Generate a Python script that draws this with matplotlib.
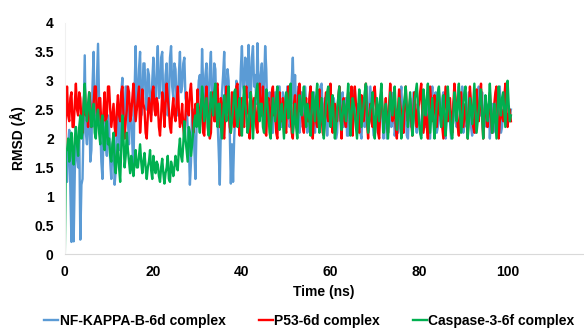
import numpy as np
import matplotlib
matplotlib.use("Agg")
import matplotlib.pyplot as plt

plt.rcParams['font.family'] = ['Liberation Sans', 'DejaVu Sans']
plt.rcParams['font.weight'] = 'bold'

# RMSD traces, one value every 0.25 ns (0 .. 100.75 ns)
time_step = 0.25

nfkb = [
    1.75, 1.5, 1.25, 1.9, 2.15, 1.1, 0.21, 1.8, 0.22, 1.4,
    2.2, 1.7, 1.5, 2.1, 0.25, 1.2, 1.3, 2.4, 3.44, 2.1,
    1.9, 2.3, 2.7, 1.6, 1.8, 2.9, 3.5, 2.2, 2.4, 3.0,
    3.64, 2.6, 2.2, 1.6, 1.3, 2.1, 2.5, 1.9, 1.7, 2.4,
    2.2, 1.6, 1.3, 1.9, 2.0, 1.2, 1.45, 2.3, 2.6, 1.8,
    2.1, 2.8, 3.05, 2.2, 2.4, 2.9, 2.9, 2.3, 1.9, 2.6,
    2.5, 1.9, 1.4, 2.8, 3.6, 2.5, 2.7, 3.2, 3.5, 2.4,
    2.6, 3.3, 3.3, 2.7, 2.5, 3.2, 3.1, 2.6, 2.4, 3.0,
    3.4, 2.8, 2.6, 3.2, 3.6, 2.7, 2.8, 3.4, 3.5, 2.6,
    2.5, 3.1, 3.3, 2.4, 2.6, 3.4, 3.6, 2.9, 2.7, 3.3,
    3.2, 2.6, 2.4, 3.1, 3.5, 2.8, 2.9, 3.3, 3.4, 2.7,
    2.6, 2.2, 1.9, 1.2, 1.6, 2.5, 2.5, 1.8, 1.3, 2.2,
    2.6, 3.0, 3.1, 2.5, 3.55, 2.9, 2.4, 3.1, 3.3, 2.5,
    2.7, 3.2, 3.5, 2.6, 2.5, 3.3, 3.2, 2.4, 2.3, 1.8,
    1.2, 2.2, 2.8, 3.1, 3.5, 2.7, 2.6, 3.2, 3.0, 2.1,
    1.22, 1.9, 1.25, 2.0, 2.4, 3.0, 2.9, 2.3, 2.5, 3.2,
    3.6, 2.9, 2.8, 3.4, 3.3, 2.7, 3.62, 3.0, 2.7, 3.4,
    3.6, 2.9, 3.1, 2.6, 3.65, 3.0, 2.6, 3.1, 3.3, 2.5,
    2.9, 3.6, 3.2, 2.4, 2.3, 2.8, 2.6, 2.1, 2.1, 2.7,
    2.8, 2.2, 2.3, 2.9, 2.9, 2.3, 2.2, 2.8, 2.7, 2.1,
    2.4, 2.9, 2.9, 2.2, 2.3, 3.0, 3.4, 2.6, 3.1, 2.5,
    2.4, 2.9, 2.1, 2.6, 2.8, 2.2, 2.3, 2.9, 2.6, 2.1,
    2.2, 2.7, 2.9, 2.3, 2.4, 2.8, 2.1, 2.5, 2.7, 2.2,
    2.3, 2.9, 2.95, 2.4, 2.2, 2.7, 2.6, 2.05, 2.4, 2.8,
    2.8, 2.2, 2.3, 2.7, 2.5, 2.0, 2.1, 2.6, 2.9, 2.3,
    2.4, 2.8, 2.2, 2.5, 2.7, 2.05, 2.05, 2.7, 2.6, 2.2,
    2.3, 2.8, 2.85, 2.4, 2.2, 2.6, 2.5, 2.1, 2.0, 2.5,
    2.7, 2.2, 2.4, 2.9, 2.1, 2.3, 2.9, 2.6, 2.3, 2.05,
    2.05, 2.5, 2.6, 2.1, 2.2, 2.7, 2.8, 2.3, 2.0, 2.4,
    2.4, 2.0, 2.1, 2.6, 2.7, 2.2, 2.3, 2.8, 2.05, 2.2,
    2.5, 2.1, 2.2, 2.7, 2.9, 2.4, 2.1, 2.6, 2.4, 2.05,
    2.0, 2.5, 2.6, 2.2, 2.3, 2.8, 2.8, 2.3, 2.1, 2.6,
    2.4, 2.1, 2.05, 2.5, 2.7, 2.3, 2.2, 2.6, 2.5, 2.0,
    2.0, 2.6, 2.9, 2.4, 2.3, 2.8, 2.1, 2.2, 2.6, 2.4,
    2.2, 2.7, 2.8, 2.1, 2.0, 2.4, 2.5, 2.3, 2.3, 2.0,
    2.05, 2.6, 2.7, 2.3, 2.2, 2.7, 2.9, 2.5, 2.4, 2.9,
    2.1, 2.5, 2.6, 2.2, 2.3, 2.8, 2.8, 2.2, 2.05, 2.4,
    2.5, 2.1, 2.2, 2.7, 2.9, 2.4, 2.4, 2.8, 2.1, 2.3,
    2.7, 2.2, 2.3, 2.6, 2.0, 2.4, 2.6, 2.1, 2.2, 2.7,
    2.8, 2.3, 2.4, 2.9, 2.1, 2.2, 2.5, 2.3, 2.3, 2.7,
    2.6, 2.5, 2.4, 2.5]

p53 = [
    1.7, 2.5, 2.9, 2.4, 2.3, 2.7, 2.8, 2.2, 2.2, 2.6,
    2.95, 2.5, 2.4, 2.8, 2.7, 2.3, 2.1, 2.6, 2.9, 2.4,
    2.5, 2.2, 2.8, 2.6, 2.2, 2.4, 2.6, 2.9, 2.9, 2.4,
    2.3, 2.7, 2.7, 2.2, 2.1, 2.5, 2.8, 2.3, 2.4, 2.9,
    2.9, 2.5, 2.2, 2.4, 2.6, 2.2, 2.05, 2.5, 2.75, 2.4,
    2.3, 2.8, 2.9, 2.4, 2.0, 2.3, 2.5, 2.9, 2.8, 2.3,
    2.4, 2.7, 2.95, 2.6, 2.3, 2.5, 2.7, 2.9, 2.1, 2.4,
    2.85, 2.6, 2.5, 2.1, 2.0, 2.4, 2.7, 2.5, 2.3, 2.8,
    2.9, 2.5, 2.4, 2.7, 2.6, 2.2, 2.05, 2.4, 2.8, 2.6,
    2.2, 2.6, 2.95, 2.7, 2.5, 2.2, 2.1, 2.5, 2.7, 2.4,
    2.3, 2.6, 2.9, 2.5, 2.2, 2.3, 2.6, 2.2, 2.0, 2.4,
    2.8, 2.5, 2.4, 2.8, 2.95, 2.6, 2.1, 2.3, 2.6, 2.3,
    2.85, 2.4, 2.2, 2.6, 2.7, 2.1, 2.05, 2.6, 2.9, 2.5,
    2.4, 2.0, 2.1, 2.7, 2.8, 2.3, 2.3, 2.9, 2.95, 2.4,
    2.2, 2.7, 2.6, 2.1, 2.0, 2.5, 2.9, 2.6, 2.5, 2.2,
    2.1, 2.8, 2.75, 2.2, 2.3, 2.9, 2.95, 2.3, 2.05, 2.6,
    2.7, 2.3, 2.2, 2.8, 2.9, 2.5, 2.4, 2.0, 2.8, 2.6,
    2.3, 2.7, 2.6, 2.2, 2.1, 2.8, 2.95, 2.4, 2.4, 2.9,
    2.4, 2.1, 2.05, 2.6, 2.7, 2.3, 2.2, 2.8, 2.9, 2.4,
    2.5, 2.1, 2.0, 2.6, 2.8, 2.4, 2.3, 2.7, 2.6, 2.2,
    2.1, 2.7, 2.9, 2.5, 2.4, 2.1, 2.0, 2.6, 2.75, 2.3,
    2.2, 2.8, 2.95, 2.6, 2.5, 2.2, 2.1, 2.5, 2.7, 2.3,
    2.3, 2.7, 2.9, 2.3, 2.0, 2.4, 2.6, 2.3, 2.2, 2.7,
    2.85, 2.5, 2.4, 2.1, 2.05, 2.6, 2.8, 2.4, 2.3, 2.7,
    2.95, 2.4, 2.1, 2.5, 2.6, 2.3, 2.3, 2.7, 2.9, 2.4,
    2.0, 2.5, 2.7, 2.3, 2.2, 2.6, 2.8, 2.5, 2.4, 2.9,
    2.05, 2.6, 2.9, 2.6, 2.5, 2.2, 2.1, 2.5, 2.75, 2.4,
    2.3, 2.7, 2.95, 2.3, 2.0, 2.4, 2.6, 2.3, 2.2, 2.8,
    2.9, 2.6, 2.4, 2.1, 2.0, 2.5, 2.8, 2.5, 2.2, 2.4,
    2.7, 2.3, 2.1, 2.6, 2.95, 2.6, 2.3, 2.4, 2.6, 2.2,
    2.0, 2.5, 2.85, 2.6, 2.4, 2.2, 2.1, 2.6, 2.9, 2.5,
    2.3, 2.5, 2.7, 2.3, 2.05, 2.5, 2.8, 2.4, 2.2, 2.5,
    2.6, 2.8, 2.95, 2.4, 2.1, 2.3, 2.5, 2.2, 2.0, 2.5,
    2.9, 2.6, 2.3, 2.5, 2.75, 2.4, 2.2, 2.5, 2.8, 2.4,
    2.4, 2.2, 2.0, 2.5, 2.9, 2.6, 2.3, 2.5, 2.7, 2.3,
    2.1, 2.6, 2.95, 2.7, 2.5, 2.2, 2.05, 2.4, 2.8, 2.5,
    2.2, 2.4, 2.6, 2.3, 2.0, 2.5, 2.9, 2.6, 2.4, 2.2,
    2.1, 2.5, 2.85, 2.5, 2.3, 2.6, 2.95, 2.4, 2.0, 2.3,
    2.7, 2.5, 2.2, 2.5, 2.8, 2.4, 2.1, 2.3, 2.6, 2.8,
    2.9, 2.4, 2.0, 2.3, 2.5, 2.4, 2.3, 2.7, 2.95, 2.5,
    2.2, 2.4, 2.5, 2.3]

casp3 = [
    0.0, 1.8, 1.8, 2.0, 1.6, 1.9, 2.1, 1.7, 1.55, 2.0,
    2.2, 1.9, 1.7, 2.2, 2.4, 2.0, 2.1, 2.6, 2.95, 2.5,
    2.3, 2.6, 2.8, 2.4, 2.2, 2.5, 2.6, 2.1, 2.0, 2.4,
    2.5, 2.1, 1.9, 2.3, 2.4, 1.9, 1.8, 2.2, 2.3, 1.9,
    2.0, 1.7, 1.6, 1.9, 2.1, 1.6, 1.4, 1.7, 1.9, 1.5,
    1.25, 1.8, 2.4, 2.0, 1.5, 1.7, 2.1, 1.8, 1.6, 1.4,
    1.7, 1.5, 1.35, 1.6, 1.8, 1.5, 1.5, 1.7, 1.9, 1.6,
    1.4, 1.6, 1.75, 1.5, 1.3, 1.5, 1.6, 1.8, 1.45, 1.3,
    1.7, 1.5, 1.4, 1.6, 1.55, 1.35, 1.25, 1.5, 1.65, 1.4,
    1.22, 1.4, 1.5, 1.7, 1.3, 1.25, 1.6, 1.5, 1.35, 1.5,
    1.7, 1.55, 1.45, 1.8, 2.0, 1.7, 1.6, 1.9, 2.3, 2.0,
    1.8, 1.6, 2.2, 2.1, 1.7, 1.9, 2.1, 2.3, 2.4, 2.2,
    2.6, 2.3, 2.1, 2.5, 2.9, 2.7, 2.3, 2.5, 2.7, 2.2,
    2.05, 2.5, 2.8, 2.6, 2.4, 2.8, 2.95, 2.5, 2.2, 2.6,
    2.6, 2.2, 2.0, 2.4, 2.75, 2.5, 2.3, 2.7, 2.9, 2.4,
    2.1, 2.3, 2.5, 2.8, 2.85, 2.4, 2.2, 2.5, 2.7, 2.3,
    2.05, 2.6, 2.9, 2.6, 2.4, 2.1, 2.2, 2.6, 2.8, 2.3,
    2.0, 2.4, 2.65, 2.8, 2.95, 2.5, 2.3, 2.6, 2.6, 2.2,
    2.1, 2.5, 2.85, 2.6, 2.4, 2.1, 2.0, 2.4, 2.7, 2.5,
    2.3, 2.7, 2.9, 2.5, 2.15, 2.4, 2.6, 2.3, 2.0, 2.5,
    2.8, 2.6, 2.35, 2.7, 2.95, 2.4, 2.1, 2.3, 2.6, 2.2,
    2.0, 2.4, 2.75, 2.5, 2.4, 2.7, 2.9, 2.5, 2.2, 2.6,
    2.5, 2.3, 2.05, 2.5, 2.8, 2.6, 2.3, 2.7, 2.95, 2.4,
    2.1, 2.4, 2.7, 2.3, 2.0, 2.3, 2.6, 2.8, 2.9, 2.5,
    2.2, 2.5, 2.75, 2.3, 2.0, 2.2, 2.5, 2.7, 2.9, 2.4,
    2.15, 2.4, 2.65, 2.5, 2.3, 2.6, 2.95, 2.5, 2.05, 2.4,
    2.7, 2.6, 2.4, 2.2, 2.0, 2.5, 2.85, 2.6, 2.2, 2.4,
    2.6, 2.8, 2.95, 2.4, 2.1, 2.3, 2.5, 2.6, 2.8, 2.4,
    2.0, 2.3, 2.7, 2.5, 2.3, 2.7, 2.95, 2.5, 2.1, 2.4,
    2.6, 2.3, 2.0, 2.4, 2.8, 2.6, 2.4, 2.7, 2.9, 2.5,
    2.15, 2.4, 2.7, 2.4, 2.0, 2.3, 2.55, 2.7, 2.9, 2.5,
    2.2, 2.5, 2.8, 2.4, 2.05, 2.3, 2.65, 2.8, 2.95, 2.6,
    2.3, 2.1, 2.0, 2.4, 2.85, 2.6, 2.4, 2.7, 2.95, 2.5,
    2.1, 2.4, 2.7, 2.3, 2.0, 2.3, 2.6, 2.8, 2.9, 2.5,
    2.2, 2.5, 2.75, 2.4, 2.05, 2.4, 2.9, 2.6, 2.4, 2.1,
    2.0, 2.4, 2.8, 2.6, 2.3, 2.6, 2.95, 2.5, 2.1, 2.3,
    2.6, 2.8, 2.9, 2.4, 2.0, 2.3, 2.7, 2.5, 2.25, 2.6,
    2.95, 2.5, 2.1, 2.3, 2.5, 2.7, 2.85, 2.4, 2.0, 2.4,
    2.75, 2.5, 2.3, 2.6, 2.95, 2.5, 2.1, 2.3, 2.6, 2.3,
    2.0, 2.5, 2.9, 2.6, 2.4, 2.7, 2.8, 2.5, 2.2, 2.6,
    3.0, 2.6, 2.3, 2.4]

labels = ['NF-KAPPA-B-6d complex', 'P53-6d complex', 'Caspase-3-6f complex']
colors = ['#5B9BD5', '#FF0000', '#00B050']
x_ticks = [0, 20, 40, 60, 80, 100]
y_ticks = [0, 0.5, 1, 1.5, 2, 2.5, 3, 3.5, 4]
y_tick_labels = ['0', '0.5', '1', '1.5', '2', '2.5', '3', '3.5', '4']

t = np.arange(len(nfkb)) * time_step

fig = plt.figure(figsize=(5.84, 3.33), dpi=100)
ax = fig.add_axes([0.111, 0.237, 0.887, 0.694])

for series, lab, col in zip([nfkb, p53, casp3], labels, colors):
    ax.plot(t, series, color=col, lw=1.7, label=lab)

ax.set_xlim(0, 117)
ax.set_ylim(0, 4)
ax.set_xticks(x_ticks)
ax.set_yticks(y_ticks)
ax.set_yticklabels(y_tick_labels)
ax.tick_params(length=0, labelsize=10, pad=8)

for s in ['top', 'right']:
    ax.spines[s].set_visible(False)
ax.spines['bottom'].set_color('#d9d9d9')
ax.spines['left'].set_color('#f0f0f0')

ax.set_xlabel('Time (ns)', fontsize=10, fontweight='bold', labelpad=4)
ax.set_ylabel('RMSD (Å)', fontsize=10, fontweight='bold', labelpad=6)

fig.legend(loc='center', bbox_to_anchor=(0.53, 0.036), ncol=3,
           frameon=False, fontsize=10, handlelength=1.0,
           handletextpad=0.1, columnspacing=2.4, borderpad=0)

fig.savefig('out.png', dpi=100)
